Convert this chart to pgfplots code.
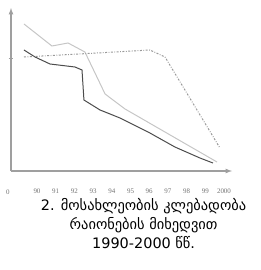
\documentclass[border=0pt]{standalone}
\usepackage{pgfplots}
\pgfplotsset{compat=1.18}
\usepackage{fontspec}
\setmainfont{Liberation Serif}
\newfontfamily\geo{DejaVu Sans}
\begin{document}
\begin{tikzpicture}
\path[use as bounding box] (-11bp,-99bp) rectangle (250bp,171bp);
\begin{axis}[
  at={(0,0)}, anchor=origin,
  scale only axis, width=221bp, height=163bp,
  xmin=1989.330, xmax=2000.722, ymin=0, ymax=163,
  axis lines=left,
  axis line style={gray!75, line width=1.2bp, -latex},
  xtick={1990.670,1991.634,1992.598,1993.562,1994.526,1995.490,1996.454,1997.418,1998.381,1999.345,2000.309},
  xticklabels={90,91,92,93,94,95,96,97,98,99,2000},
  xtick style={draw=none},
  xticklabel style={font=\fontsize{7}{8}\selectfont, text=gray!90!black, yshift=-12bp},
  ytick={113}, yticklabels={},
  ytick style={gray!75, line width=0.6bp},
  major tick length=5bp,
  clip=false,
  /pgf/number format/assume math mode=true,
]
\addplot[gray!45, line width=1bp] coordinates {
  (1990.00,147) (1991.44,125) (1992.27,128) (1993.14,119) (1994.18,77) (1995.21,62) (1999.95,9)
};
\addplot[gray!60!black, line width=1bp] coordinates {
  (1990.00,121) (1990.57,114) (1991.34,107) (1992.63,104) (1992.99,101) (1993.09,71) (1993.92,61) (1994.95,53) (1996.49,38) (1997.78,24) (1999.07,13) (1999.74,8)
};
\addplot[gray!80, line width=1bp, dash pattern=on 2bp off 1.5bp on 0.8bp off 1.5bp] coordinates {
  (1990.00,114) (1993.76,118) (1996.49,121) (1997.27,114) (2000.10,23)
};
\node[anchor=north, font=\fontsize{7}{8}\selectfont, text=gray!90!black, yshift=-15bp] at (axis cs:1989.175,0) {0};
\node[align=center, anchor=north, font=\geo\fontsize{14.5}{19}\selectfont, inner sep=0pt] at (rel axis cs:0.6,-0.165)
  {2. მოსახლეობის კლებადობა\\რაიონების მიხედვით\\1990-2000 წწ.};
\end{axis}
\end{tikzpicture}
\end{document}
